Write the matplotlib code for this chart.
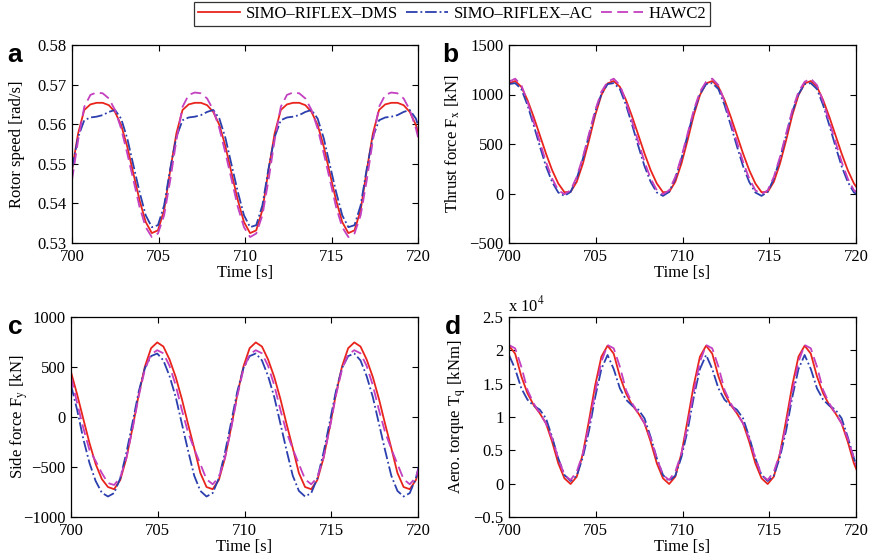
import numpy as np
import matplotlib.pyplot as plt
from matplotlib.ticker import FuncFormatter

plt.rcParams['font.family'] = ['Liberation Serif', 'DejaVu Serif']
plt.rcParams['mathtext.fontset'] = 'stix'
plt.rcParams['font.size'] = 12
plt.rcParams['lines.solid_joinstyle'] = 'round'
plt.rcParams['lines.dash_joinstyle'] = 'round'

# sample times [s]
time = np.round(700 + 0.355 * np.arange(58), 3)

# (a) rotor speed [rad/s]
rot_dms = [0.5484, 0.5577, 0.5636, 0.5650, 0.5654, 0.5654, 0.5648, 0.5631, 0.5598, 0.5543, 0.5475, 0.5408, 0.5353, 0.5325, 0.5332, 0.5383,
           0.5484, 0.5577, 0.5636, 0.5650, 0.5654, 0.5654, 0.5648, 0.5631, 0.5598, 0.5543, 0.5475, 0.5408, 0.5353, 0.5325, 0.5332, 0.5383,
           0.5484, 0.5577, 0.5636, 0.5650, 0.5654, 0.5654, 0.5648, 0.5631, 0.5598, 0.5543, 0.5475, 0.5408, 0.5353, 0.5325, 0.5332, 0.5383,
           0.5484, 0.5577, 0.5636, 0.5650, 0.5654, 0.5654, 0.5648, 0.5631, 0.5598, 0.5543]
rot_ac = [0.5488, 0.5568, 0.5610, 0.5617, 0.5619, 0.5623, 0.5631, 0.5636, 0.5614, 0.5564, 0.5496, 0.5429, 0.5370, 0.5340, 0.5345, 0.5395,
          0.5488, 0.5568, 0.5610, 0.5617, 0.5619, 0.5623, 0.5631, 0.5636, 0.5614, 0.5564, 0.5496, 0.5429, 0.5370, 0.5340, 0.5345, 0.5395,
          0.5488, 0.5568, 0.5610, 0.5617, 0.5619, 0.5623, 0.5631, 0.5636, 0.5614, 0.5564, 0.5496, 0.5429, 0.5370, 0.5340, 0.5345, 0.5395,
          0.5488, 0.5568, 0.5610, 0.5617, 0.5619, 0.5623, 0.5631, 0.5636, 0.5614, 0.5564]
rot_hawc = [0.5459, 0.5560, 0.5644, 0.5674, 0.5680, 0.5678, 0.5665, 0.5636, 0.5589, 0.5526, 0.5459, 0.5391, 0.5340, 0.5315, 0.5324, 0.5370,
            0.5459, 0.5560, 0.5644, 0.5674, 0.5680, 0.5678, 0.5665, 0.5636, 0.5589, 0.5526, 0.5459, 0.5391, 0.5340, 0.5315, 0.5324, 0.5370,
            0.5459, 0.5560, 0.5644, 0.5674, 0.5680, 0.5678, 0.5665, 0.5636, 0.5589, 0.5526, 0.5459, 0.5391, 0.5340, 0.5315, 0.5324, 0.5370,
            0.5459, 0.5560, 0.5644, 0.5674, 0.5680, 0.5678, 0.5665, 0.5636, 0.5589, 0.5526]

# (b) thrust force Fx [kN]
fx_dms = [1112, 1136, 1078, 944, 775, 590, 404, 236, 101, 13, 16, 118, 303, 539, 792, 994,
          1112, 1136, 1078, 944, 775, 590, 404, 236, 101, 13, 16, 118, 303, 539, 792, 994,
          1112, 1136, 1078, 944, 775, 590, 404, 236, 101, 13, 16, 118, 303, 539, 792, 994,
          1112, 1136, 1078, 944, 775, 590, 404, 236, 101, 13]
fx_ac = [1105, 1115, 1055, 893, 691, 478, 276, 117, 10, -24, 16, 151, 353, 590, 826, 1004,
         1105, 1115, 1055, 893, 691, 478, 276, 117, 10, -24, 16, 151, 353, 590, 826, 1004,
         1105, 1115, 1055, 893, 691, 478, 276, 117, 10, -24, 16, 151, 353, 590, 826, 1004,
         1105, 1115, 1055, 893, 691, 478, 276, 117, 10, -24]
fx_hawc = [1129, 1160, 1095, 927, 724, 522, 320, 151, 33, -7, 33, 168, 370, 606, 842, 1028,
           1129, 1160, 1095, 927, 724, 522, 320, 151, 33, -7, 33, 168, 370, 606, 842, 1028,
           1129, 1160, 1095, 927, 724, 522, 320, 151, 33, -7, 33, 168, 370, 606, 842, 1028,
           1129, 1160, 1095, 927, 724, 522, 320, 151, 33, -7]

# (c) side force Fy [kN]
fy_dms = [450, 225, -20, -260, -470, -620, -700, -722, -630, -410, -105, 225, 505, 688, 746, 705,
          575, 400, 180, -70, -310, -560, -700, -722, -630, -410, -105, 225, 505, 688, 746, 705,
          575, 400, 180, -70, -310, -560, -700, -722, -630, -410, -105, 225, 505, 688, 746, 705,
          575, 400, 180, -70, -310, -560, -700, -722, -630, -410]
fy_ac = [320, 70, -220, -460, -640, -757, -795, -761, -612, -355, -53, 255, 489, 609, 635, 566,
         409, 200, -67, -334, -586, -739, -795, -761, -612, -355, -53, 255, 489, 609, 635, 566,
         409, 200, -67, -334, -586, -739, -795, -761, -612, -355, -53, 255, 489, 609, 635, 566,
         409, 200, -67, -334, -586, -739, -795, -761, -612, -355]
fy_hawc = [400, 140, -110, -330, -440, -560, -660, -680, -604, -407, -116, 210, 476, 627, 668, 637,
           511, 318, 70, -153, -318, -470, -622, -673, -604, -407, -116, 210, 476, 627, 668, 637,
           511, 318, 70, -153, -318, -470, -622, -673, -604, -407, -116, 210, 476, 627, 668, 637,
           511, 318, 70, -153, -318, -470, -622, -673, -604, -407]

# (d) aerodynamic torque Tq [kNm]
tq_dms = [20700, 19500, 16100, 13550, 11800, 10550, 9050, 6300, 3050, 800, -50, 1050, 4550, 9550, 14800, 19050,
          20700, 19500, 16100, 13550, 11800, 10550, 9050, 6300, 3050, 800, -50, 1050, 4550, 9550, 14800, 19050,
          20700, 19500, 16100, 13550, 11800, 10550, 9050, 6300, 3050, 800, -50, 1050, 4550, 9550, 14800, 19050,
          20700, 19500, 16100, 13550, 11800, 10550, 9050, 6300, 3050, 800]
tq_ac = [19300, 17200, 14300, 12600, 11700, 11100, 9800, 7000, 3800, 1300, 400, 1200, 4000, 8000, 13000, 17200,
         19300, 17200, 14300, 12600, 11700, 11100, 9800, 7000, 3800, 1300, 400, 1200, 4000, 8000, 13000, 17200,
         19300, 17200, 14300, 12600, 11700, 11100, 9800, 7000, 3800, 1300, 400, 1200, 4000, 8000, 13000, 17200,
         19300, 17200, 14300, 12600, 11700, 11100, 9800, 7000, 3800, 1300]
tq_hawc = [20800, 20300, 17550, 14050, 12050, 10550, 9050, 6800, 3800, 1300, 550, 1800, 4550, 8800, 13800, 18300,
           20800, 20300, 17550, 14050, 12050, 10550, 9050, 6800, 3800, 1300, 550, 1800, 4550, 8800, 13800, 18300,
           20800, 20300, 17550, 14050, 12050, 10550, 9050, 6800, 3800, 1300, 550, 1800, 4550, 8800, 13800, 18300,
           20800, 20300, 17550, 14050, 12050, 10550, 9050, 6800, 3800, 1300]

labels = ['SIMO\u2013RIFLEX\u2013DMS', 'SIMO\u2013RIFLEX\u2013AC', 'HAWC2']
c_red = '#e8241c'
c_blue = '#2b3fae'
c_mag = '#c340c0'

W, H = 873, 558
fig = plt.figure(figsize=(8.73, 5.58), dpi=100)


def px_axes(l, r, t, b):
    ax = fig.add_axes([l / W, 1 - b / H, (r - l) / W, (b - t) / H])
    ax.px_box = (l, r)
    return ax


def gfmt(v, p):
    return ('%g' % round(v, 6)).replace('-', '\u2212')


def draw(ax, y1, y2, y3, ylim, yticks, ylabel, fmt, label_x):
    ax.plot(time, y1, '-', color=c_red, lw=1.3, label=labels[0])
    ax.plot(time, y2, '-.', color=c_blue, lw=1.3, label=labels[1])
    ax.plot(time, y3, '--', color=c_mag, lw=1.3, dashes=(6, 3), label=labels[2])
    ax.set_xlim(700, 720)
    ax.set_ylim(*ylim)
    ax.set_xticks([700, 705, 710, 715, 720])
    ax.set_yticks(yticks)
    ax.yaxis.set_major_formatter(FuncFormatter(fmt))
    ax.tick_params(direction='in', top=True, right=True, length=4, width=0.8, labelsize=12, pad=4)
    for s in ax.spines.values():
        s.set_linewidth(0.9)
    ax.set_xlabel('Time [s]', labelpad=0, fontsize=12)
    ax.set_ylabel(ylabel, fontsize=12, va='center')
    l, r = ax.px_box
    ax.yaxis.set_label_coords((label_x - l) / (r - l), 0.5)


ax_a = px_axes(72, 418, 45, 243)
draw(ax_a, rot_dms, rot_ac, rot_hawc, (0.53, 0.58), [0.53, 0.54, 0.55, 0.56, 0.57, 0.58],
     'Rotor speed [rad/s]', lambda v, p: '%.2f' % v, 17)

ax_b = px_axes(509, 856, 45, 243)
draw(ax_b, fx_dms, fx_ac, fx_hawc, (-500, 1500), [-500, 0, 500, 1000, 1500],
     'Thrust force F$_{\\rm x}$ [kN]', gfmt, 453)

ax_c = px_axes(71, 418, 317, 517)
draw(ax_c, fy_dms, fy_ac, fy_hawc, (-1000, 1000), [-1000, -500, 0, 500, 1000],
     'Side force F$_{\\rm y}$ [kN]', gfmt, 19)

ax_d = px_axes(509, 856, 317, 517)
draw(ax_d, np.array(tq_dms) / 1e4, np.array(tq_ac) / 1e4, np.array(tq_hawc) / 1e4, (-0.5, 2.5),
     [-0.5, 0, 0.5, 1, 1.5, 2, 2.5], 'Aero. torque T$_{\\rm q}$ [kNm]', gfmt, 457)
fig.text(508 / W, 1 - 311 / H, 'x 10$^{4}$', ha='left', va='baseline', fontsize=12)

for letter, x, y in [('a', 15, 62), ('b', 450, 62), ('c', 15, 334), ('d', 453, 334)]:
    fig.text(x / W, 1 - y / H, letter, ha='center', va='baseline', fontsize=19,
             fontweight='bold', family='Liberation Sans')

handles, labs = ax_a.get_legend_handles_labels()
leg = fig.legend(handles, labs, loc='center', bbox_to_anchor=(452 / W, 1 - 14 / H), ncol=3,
                 frameon=True, fancybox=False, edgecolor='black', fontsize=12,
                 handlelength=2.5, handletextpad=0.35, columnspacing=0.5, borderpad=0.25,
                 borderaxespad=0)
leg.get_frame().set_linewidth(0.9)

fig.savefig('out.png', dpi=100)
